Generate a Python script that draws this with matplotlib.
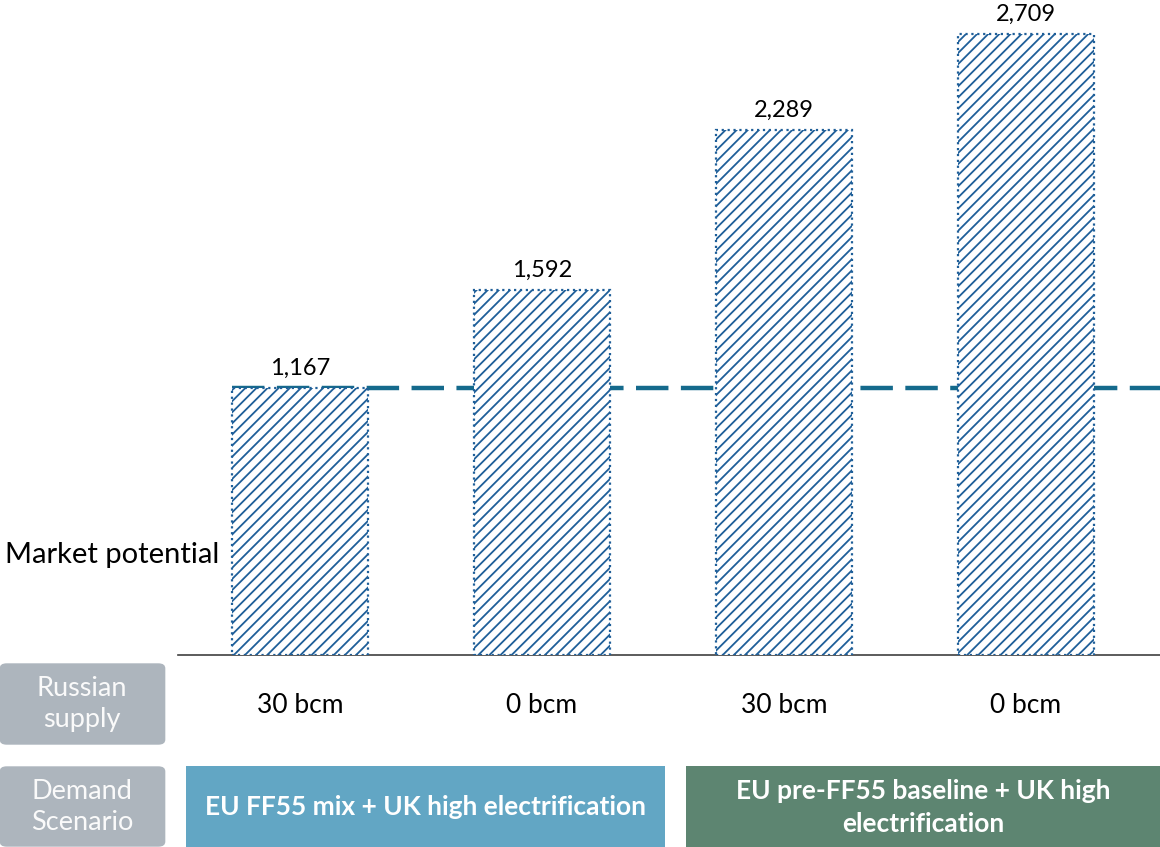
import matplotlib.pyplot as plt
import matplotlib.transforms as mtransforms
from matplotlib.patches import FancyBboxPatch, Rectangle

plt.rcParams['font.family'] = ['Lato', 'DejaVu Sans']
plt.rcParams['hatch.linewidth'] = 1.3

values = [1167, 1592, 2289, 2709]
value_labels = ["1,167", "1,592", "2,289", "2,709"]
russian_supply = ["30 bcm", "0 bcm", "30 bcm", "0 bcm"]
scenarios = ["EU FF55 mix + UK high electrification",
             "EU pre-FF55 baseline + UK high\nelectrification"]
scenario_colors = ["#62a6c4", "#5d8571"]
row_titles = ["Russian\nsupply", "Demand\nScenario"]

W, H = 1160, 847
fig = plt.figure(figsize=(W / 100, H / 100), dpi=100)
ax = fig.add_axes([178 / W, (H - 655) / H, (W - 178) / W, 655 / H])

x = list(range(len(values)))
bw = 0.56
ax.set_xlim(-0.504, 3.554)
ax.set_ylim(0, 2858)

bar_col = "#1f5f99"
ax.bar(x, values, width=bw, color="white", edgecolor=bar_col, hatch="///",
       linestyle=":", linewidth=1.6, zorder=3)
ax.plot([x[0] - bw / 2, 3.554], [values[0], values[0]], color="#156a8c",
        lw=3.2, dashes=(7.3, 2.8), zorder=2, solid_capstyle="butt")
for xi, v, lab in zip(x, values, value_labels):
    ax.text(xi, v + 40, lab, ha="center", va="bottom", fontsize=17, color="black")

for s in ["top", "left", "right"]:
    ax.spines[s].set_visible(False)
ax.spines["bottom"].set_color("#404040")
ax.spines["bottom"].set_linewidth(1.2)
ax.set_xticks([])
ax.set_yticks([])

fig.text(5 / W, 1 - 555 / H, "Market potential", ha="left", va="center",
         fontsize=21, color="black")

blend = mtransforms.blended_transform_factory(ax.transData, fig.transFigure)

# row title boxes
for t, y0, y1 in [(row_titles[0], 663, 745), (row_titles[1], 766, 847)]:
    box = FancyBboxPatch((2 / W, 1 - (y1 - 2) / H), 161 / W, (y1 - y0 - 4) / H,
                         boxstyle="round,pad=0.002,rounding_size=0.006",
                         transform=fig.transFigure, facecolor="#adb5bd",
                         edgecolor="none")
    fig.patches.append(box)
    fig.text(82 / W, 1 - ((y0 + y1) / 2) / H, t, ha="center", va="center",
             fontsize=19.5, color="#fafafa", linespacing=1.3)

for xi, lab in zip(x, russian_supply):
    ax.text(xi, 1 - 705 / H, lab, transform=blend, ha="center", va="center",
            fontsize=19, color="black")

# demand scenario boxes
edges = [(-0.471, 1.508), (1.595, 3.554)]
for (a, b), lab, col in zip(edges, scenarios, scenario_colors):
    r = Rectangle((a, 0), b - a, 81 / H, transform=blend, facecolor=col,
                  edgecolor="none", clip_on=False, zorder=1)
    fig.patches.append(r)
    fig.text((a + b) / 2, 40 / H, lab, transform=blend, ha="center", va="center",
             fontsize=19, fontweight="bold", color="white", linespacing=1.45,
             zorder=5)

fig.savefig("out.png", dpi=100)
